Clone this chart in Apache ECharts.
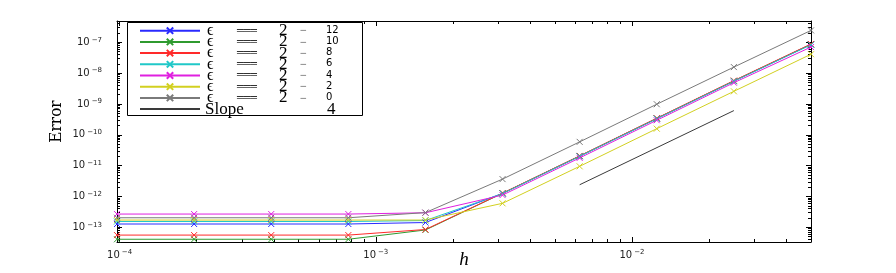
<!DOCTYPE html>
<html><head><meta charset="utf-8">
<script src="https://cdn.jsdelivr.net/npm/echarts@6/dist/echarts.min.js"></script>
<style>html,body{margin:0;padding:0;background:#fff}#c{width:896px;height:273px}</style>
</head><body><div id="c"></div>
<script>
// ---- data ----
const hValues = [9.765625e-5, 1.953125e-4, 3.90625e-4, 7.8125e-4, 1.5625e-3, 3.125e-3, 6.25e-3, 1.25e-2, 2.5e-2, 5e-2];
const epsExponents = ['−12', '−10', '−8', '−6', '−4', '−2', '−0'];
const errEps12 = [1.28e-13, 1.28e-13, 1.28e-13, 1.28e-13, 1.43e-13, 1.26e-12, 2.03e-11, 3.37e-10, 5.55e-9, 8.5e-8];
const errEps10 = [4.1e-14, 4.1e-14, 4.1e-14, 4.1e-14, 8.2e-14, 1.27e-12, 2.05e-11, 3.4e-10, 5.6e-9, 8.6e-8];
const errEps8  = [5.6e-14, 5.6e-14, 5.6e-14, 5.6e-14, 8.5e-14, 1.28e-12, 2.07e-11, 3.45e-10, 5.7e-9, 8.8e-8];
const errEps6  = [1.54e-13, 1.54e-13, 1.54e-13, 1.54e-13, 1.66e-13, 1.24e-12, 2.0e-11, 3.3e-10, 5.45e-9, 8.3e-8];
const errEps4  = [2.69e-13, 2.69e-13, 2.69e-13, 2.69e-13, 2.96e-13, 1.11e-12, 1.78e-11, 2.96e-10, 4.9e-9, 7.0e-8];
const errEps2  = [1.72e-13, 1.72e-13, 1.72e-13, 1.72e-13, 1.72e-13, 6.0e-13, 9.5e-12, 1.58e-10, 2.57e-9, 4.1e-8];
const errEps0  = [2.04e-13, 2.04e-13, 2.04e-13, 2.04e-13, 3.0e-13, 3.66e-12, 5.9e-11, 9.8e-10, 1.57e-8, 2.43e-7];
const slopeH = [6.25e-3, 2.5e-2];
const slopeErr = [2.4e-12, 6.1e-10];
const slopeName = 'Slope 4';
const xTickExps = [-4, -3, -2];
const yTickExps = [-13, -12, -11, -10, -9, -8, -7];
const xRange = [9.765625e-5, 0.05];
const yRange = [3.34e-14, 4.9e-7];

// ---- styles ----
const colors = ['#2a2aff', '#2f9a2f', '#ff2a2a', '#20c8c8', '#e020e0', '#d2d020', '#7a7a7a'];
const slopeColor = '#3a3a3a';
const errSets = [errEps12, errEps10, errEps8, errEps6, errEps4, errEps2, errEps0];
const names = epsExponents.map(e => 'ϵ = 2' + e);
const legendNames = names.concat([slopeName]);

const xSymbol = 'path://M0 0L10 10M10 0L0 10';

function minorVals(lo, hi) {
  const out = [];
  for (let k = lo; k <= hi; k++) for (let m = 2; m <= 9; m++) out.push(m * Math.pow(10, k));
  return out;
}

function labelFmt(list) {
  return function (v) {
    const l = Math.log10(v);
    const e = Math.round(l);
    if (Math.abs(l - e) > 1e-6 || list.indexOf(e) < 0) return '';
    return '{b|10}{s|−' + Math.abs(e) + '}';
  };
}
const labelRich = {
  b: { fontFamily: 'DejaVu Sans', fontSize: 10, color: '#222', lineHeight: 12 },
  s: { fontFamily: 'DejaVu Sans', fontSize: 7, color: '#222', lineHeight: 5, verticalAlign: 'top', padding: [0, 0, 0, 2] }
};

function mkAxis(pos, range, opts) {
  const base = {
    type: 'log', logBase: 10, min: range[0], max: range[1], position: pos,
    axisLine: { show: opts.line, lineStyle: { color: '#000', width: 1 } },
    axisTick: { show: true, inside: true, length: opts.len, lineStyle: { color: '#000', width: 1 } },
    axisLabel: { show: false },
    splitLine: { show: false },
    minorTick: { show: false }
  };
  if (opts.custom) base.axisTick.customValues = opts.custom;
  return Object.assign(base, opts.extra || {});
}

const xMinor = minorVals(-5, -2);
const yMinor = minorVals(-14, -7);

const xAxes = [
  mkAxis('bottom', xRange, { line: true, len: 5, extra: {
    axisLabel: { show: true, formatter: labelFmt(xTickExps), rich: labelRich, margin: 7 },
    name: 'h', nameLocation: 'middle', nameGap: 8, nameMoveOverlap: false,
    nameTextStyle: { fontFamily: 'Liberation Serif', fontStyle: 'italic', fontSize: 19, color: '#000' }
  }}),
  mkAxis('bottom', xRange, { line: false, len: 3, custom: xMinor }),
  mkAxis('top', xRange, { line: true, len: 5 }),
  mkAxis('top', xRange, { line: false, len: 3, custom: xMinor })
];
const yAxes = [
  mkAxis('left', yRange, { line: true, len: 5, extra: {
    axisLabel: { show: true, formatter: labelFmt(yTickExps), rich: labelRich, margin: 15 },
    name: 'Error', nameLocation: 'middle', nameGap: 52, nameRotate: 90, nameMoveOverlap: false,
    nameTextStyle: { fontFamily: 'DejaVu Serif Condensed', fontSize: 17, color: '#000', padding: [0, 0, 0, 20] }
  }}),
  mkAxis('left', yRange, { line: false, len: 3, custom: yMinor }),
  mkAxis('right', yRange, { line: true, len: 5 }),
  mkAxis('right', yRange, { line: false, len: 3, custom: yMinor })
];

const series = errSets.map((arr, i) => ({
  name: names[i], type: 'line', xAxisIndex: 0, yAxisIndex: 0,
  data: arr.map((v, j) => [hValues[j], v]),
  symbol: xSymbol, symbolSize: 6, showSymbol: true,
  lineStyle: { color: colors[i], width: 1 },
  itemStyle: { color: colors[i], borderColor: colors[i], borderWidth: 1 },
  animation: false, silent: true
}));
series.push({
  name: slopeName, type: 'line', xAxisIndex: 0, yAxisIndex: 0,
  data: slopeErr.map((v, j) => [slopeH[j], v]),
  symbol: 'circle', showSymbol: false, lineStyle: { color: slopeColor, width: 1 },
  itemStyle: { color: slopeColor }, animation: false, silent: true
});

function legendFmt(name) {
  const i = names.indexOf(name);
  if (i < 0) return '{sl|Slope }{sl4|4}';
  const e = epsExponents[i];
  return '{e|ϵ}{eq|═══}{n|2}{m|−}{d|' + e.slice(1) + '}';
}
const legendRich = {
  e: { fontFamily: 'Liberation Serif', fontSize: 16, width: 30, padding: [0, 0, 0, 2] },
  eq: { fontFamily: 'DejaVu Sans Mono', fontSize: 11, width: 42, color: '#333' },
  n: { fontFamily: 'Liberation Serif', fontSize: 17, width: 21 },
  m: { fontFamily: 'Liberation Serif', fontSize: 12, lineHeight: 6, width: 24, verticalAlign: 'top', color: '#444' },
  d: { fontFamily: 'DejaVu Sans', fontSize: 10, lineHeight: 6, width: 32, verticalAlign: 'top', padding: [0, 0, 0, 2] },
  sl: { fontFamily: 'Liberation Serif', fontSize: 17, width: 122 },
  sl4: { fontFamily: 'Liberation Serif', fontSize: 17, width: 20 }
};
// one legend component per row so the rows can sit closer than the glyph height
const legends = legendNames.map((nm, i) => {
  const lg = {
    left: 127, top: 22.2 + 11.2 * i, orient: 'vertical', itemWidth: 60, itemHeight: 8,
    padding: [0, 0, 0, 12], data: [nm], formatter: legendFmt, selectedMode: false, z: 5,
    textStyle: { color: '#000', lineHeight: 11, rich: legendRich }
  };
  if (nm === slopeName) lg.itemStyle = { opacity: 0 };
  return lg;
});

const chart = echarts.init(document.getElementById('c'), null, { renderer: 'canvas' });
chart.setOption({
  animation: false,
  backgroundColor: '#fff',
  grid: { left: 117, right: 85, top: 21, bottom: 31, containLabel: false, outerBoundsMode: 'none' },
  xAxis: xAxes,
  yAxis: yAxes,
  legend: legends,
  graphic: [{
    type: 'rect', left: 127, top: 22, z: 3, silent: true,
    shape: { width: 235, height: 93 },
    style: { fill: '#fff', stroke: '#000', lineWidth: 1 }
  }],
  series: series
});
</script></body></html>
